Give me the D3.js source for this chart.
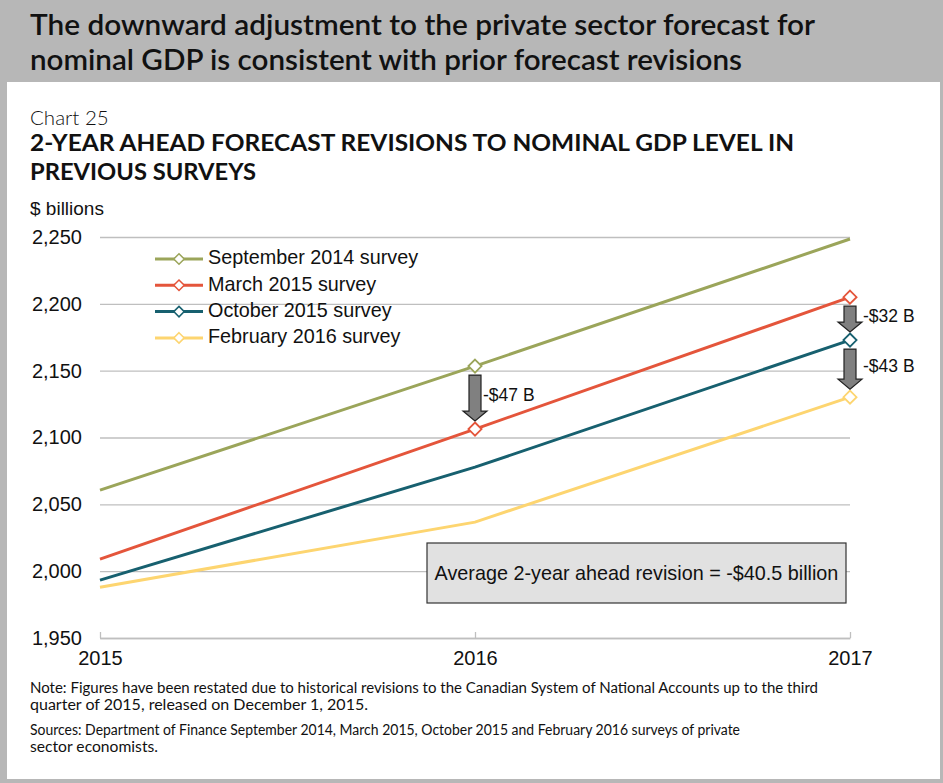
<!DOCTYPE html>
<html><head><meta charset="utf-8">
<script src="https://cdn.jsdelivr.net/npm/d3@7"></script>
<style>body{margin:0;background:#fff}svg{display:block}</style>
</head><body>
<script>
const years = [2015, 2016, 2017];
const seriesNames = ["September 2014 survey","March 2015 survey","October 2015 survey","February 2016 survey"];
const sept2014 = [2060.6, 2153.4, 2248.5];
const mar2015  = [2009.0, 2106.3, 2205.0];
const oct2015  = [1993.3, 2077.8, 2172.9];
const feb2016  = [1988.0, 2036.7, 2130.2];
const seriesColors = ["#9BA55A","#E4553B","#17606F","#FDD570"];
// which points carry a marker (series index, year index)
const markers = [[1,1],[1,2],[0,1],[2,2],[3,2]].map(d=>({s:d[0],i:d[1]}));
// revision annotations: [year index, upper series, lower series, label]
const revisions = [[1,0,1,"-$47 B"],[2,1,2,"-$32 B"],[2,2,3,"-$43 B"]];
const yTicks = [1950,2000,2050,2100,2150,2200,2250];
const avgText = "Average 2-year ahead revision = -$40.5 billion";

const W=943,H=783;
const svg=d3.select("body").append("svg").attr("width",W).attr("height",H);
svg.append("rect").attr("x",0).attr("y",0).attr("width",W).attr("height",H).attr("fill","#B7B7B7");
svg.append("rect").attr("x",7).attr("y",82).attr("width",W-7-3).attr("height",H-82-4).attr("fill","#fff");
const titleFont="Lato, 'Open Sans', sans-serif";
svg.append("text").attr("x",30).attr("y",35).attr("font-family",titleFont).attr("font-weight",600).attr("font-size",28)
  .attr("textLength",785).attr("lengthAdjust","spacingAndGlyphs").attr("fill","#111").text("The downward adjustment to the private sector forecast for");
svg.append("text").attr("x",30).attr("y",70).attr("font-family",titleFont).attr("font-weight",600).attr("font-size",28)
  .attr("textLength",712).attr("lengthAdjust","spacingAndGlyphs").attr("fill","#111").text("nominal GDP is consistent with prior forecast revisions");
svg.append("text").attr("x",30).attr("y",125).attr("font-family",titleFont).attr("font-weight",300).attr("font-size",20.5)
  .attr("fill","#111").text("Chart 25");
svg.append("text").attr("x",30).attr("y",151).attr("font-family",titleFont).attr("font-weight",700).attr("font-size",22)
  .attr("textLength",764).attr("lengthAdjust","spacingAndGlyphs").attr("fill","#111").text("2-YEAR AHEAD FORECAST REVISIONS TO NOMINAL GDP LEVEL IN");
svg.append("text").attr("x",30).attr("y",180).attr("font-family",titleFont).attr("font-weight",700).attr("font-size",22)
  .attr("textLength",226).attr("lengthAdjust","spacingAndGlyphs").attr("fill","#111").text("PREVIOUS SURVEYS");

const x=d3.scalePoint().domain(years).range([100,850]);
const y=d3.scaleLinear().domain([1950,2250]).range([638,237]);
const af="Arial, 'Liberation Sans', sans-serif";
svg.append("text").attr("x",30).attr("y",215).attr("font-family",af).attr("font-size",19).attr("fill","#111").text("$ billions");

const yAxis=d3.axisLeft(y).tickValues(yTicks).tickSize(-750).tickFormat(d3.format(",")).tickPadding(18);
const gy=svg.append("g").attr("transform","translate(100,0)").call(yAxis);
gy.select(".domain").remove();
gy.selectAll(".tick line").attr("stroke","#BFBFBF").attr("stroke-width",1.3);
gy.selectAll(".tick text").attr("font-family",af).attr("font-size",20).attr("fill","#111");
const xAxis=d3.axisBottom(x).tickSizeInner(-6).tickSizeOuter(0).tickPadding(13);
const gx=svg.append("g").attr("transform","translate(0,638)").call(xAxis);
gx.select(".domain").attr("stroke","#BFBFBF").attr("stroke-width",1.3);
gx.selectAll(".tick line").attr("stroke","#BFBFBF").attr("stroke-width",1.3);
gx.selectAll(".tick text").attr("font-family",af).attr("font-size",20).attr("fill","#111");

const allSeries=[sept2014,mar2015,oct2015,feb2016];
const line=d3.line().x((d,i)=>x(years[i])).y(d=>y(d));
allSeries.forEach((s,k)=>{
  svg.append("path").attr("d",line(s)).attr("fill","none").attr("stroke",seriesColors[k]).attr("stroke-width",3);
});
const diamond=d3.symbol().type(d3.symbolDiamond2).size(110);
markers.forEach(m=>{
  svg.append("path").attr("d",diamond()).attr("transform",`translate(${x(years[m.i])},${y(allSeries[m.s][m.i])})`)
    .attr("fill","#fff").attr("stroke",seriesColors[m.s]).attr("stroke-width",1.8);
});

revisions.forEach(r=>{
  const cx=x(years[r[0]]);
  const y0=y(allSeries[r[1]][r[0]])+9, y1=y(allSeries[r[2]][r[0]])-8;
  const hw=6, hh=12, headH=10;
  const p=`M${cx-hw},${y0} L${cx+hw},${y0} L${cx+hw},${y1-headH} L${cx+hh},${y1-headH} L${cx},${y1} L${cx-hh},${y1-headH} L${cx-hw},${y1-headH} Z`;
  svg.append("path").attr("d",p).attr("fill","#808080").attr("stroke","#222").attr("stroke-width",1.2);
  svg.append("text").attr("x",cx+(r[0]===2?13:8)).attr("y",(y0+y1)/2-2).attr("font-family",af).attr("font-size",17.5)
    .attr("dominant-baseline","middle").attr("fill","#111").text(r[3]);
});

const lg=svg.append("g");
seriesNames.forEach((n,k)=>{
  const ly=259+k*26.3;
  lg.append("line").attr("x1",155).attr("x2",203).attr("y1",ly).attr("y2",ly).attr("stroke",seriesColors[k]).attr("stroke-width",3);
  lg.append("path").attr("d",d3.symbol().type(d3.symbolDiamond2).size(70)()).attr("transform",`translate(179,${ly})`)
    .attr("fill","#fff").attr("stroke",seriesColors[k]).attr("stroke-width",1.5);
  lg.append("text").attr("x",208).attr("y",ly).attr("dominant-baseline","middle").attr("font-family",af).attr("font-size",19.8)
    .attr("fill","#111").text(n);
});

svg.append("rect").attr("x",427).attr("y",543).attr("width",419).attr("height",60).attr("fill","#E1E1E1").attr("stroke","#333").attr("stroke-width",1.2);
svg.append("text").attr("x",636.5).attr("y",575).attr("text-anchor","middle").attr("dominant-baseline","middle")
  .attr("font-family",af).attr("font-size",19.8).attr("fill","#111").text(avgText);

const nf=titleFont;
const notes=[[693,"Note: Figures have been restated due to historical revisions to the Canadian System of National Accounts up to the third",788],
 [710,"quarter of 2015, released on December 1, 2015.",338],
 [735,"Sources: Department of Finance September 2014, March 2015, October 2015 and February 2016 surveys of private",710],
 [752,"sector economists.",128]];
notes.forEach(n=>{
  svg.append("text").attr("x",30).attr("y",n[0]).attr("font-family",nf).attr("font-size",14.5).attr("fill","#111")
    .attr("textLength",n[2]).attr("lengthAdjust","spacingAndGlyphs").text(n[1]);
});
</script>
</body></html>
